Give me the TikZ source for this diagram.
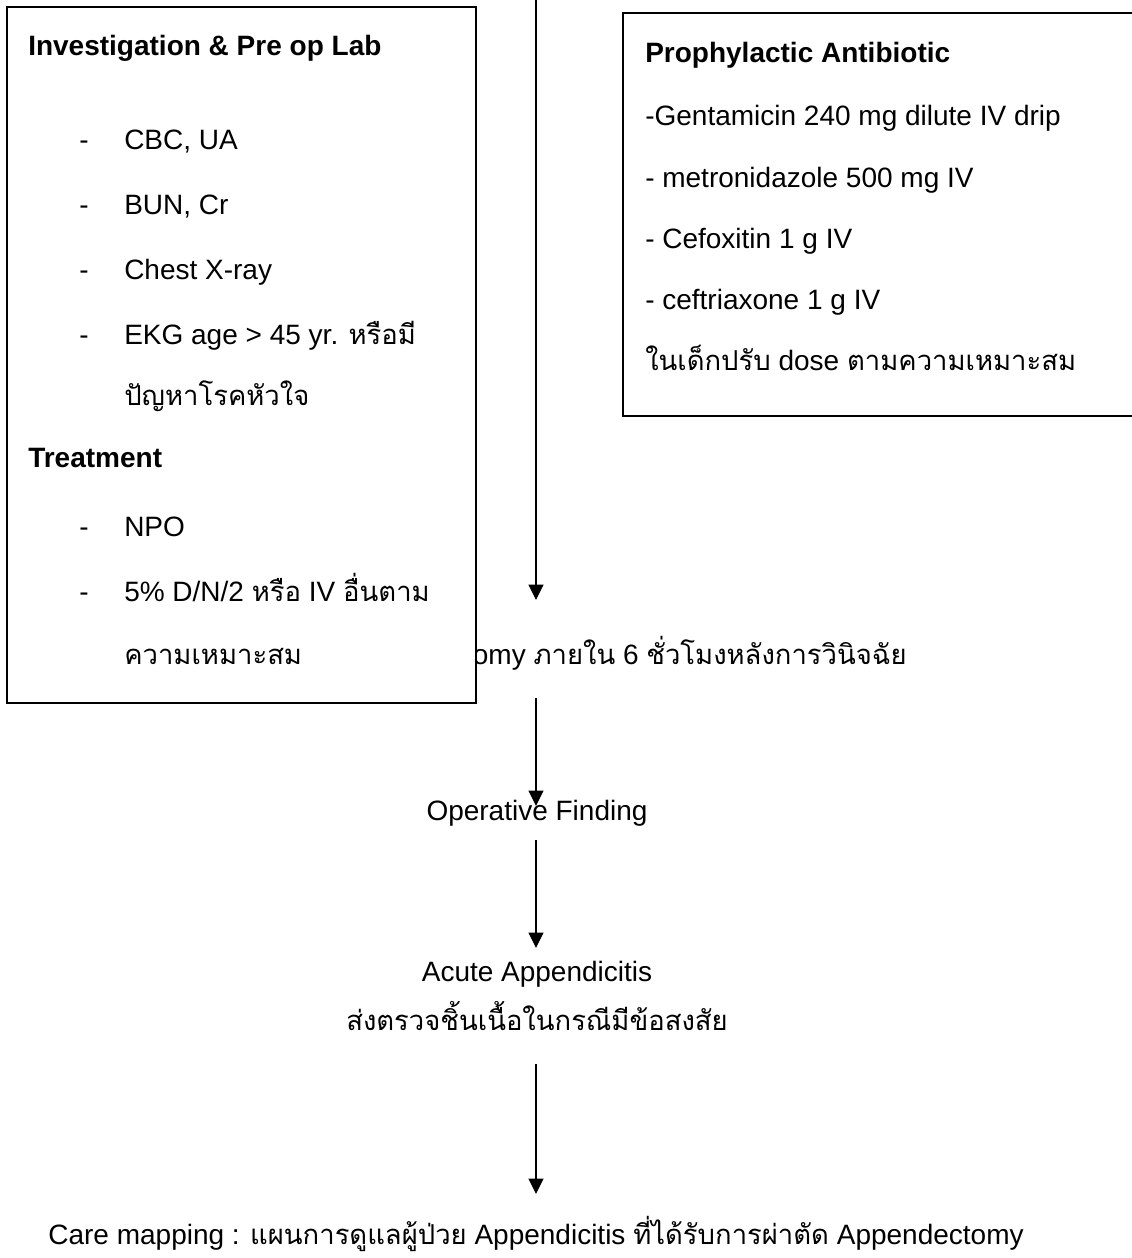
\documentclass[tikz,border=0pt]{standalone}
\usepackage{fontspec}
\setmainfont{Liberation Sans}
\newfontfamily\thaifont[Script=Thai,Scale=0.98]{Loma}
\usetikzlibrary{arrows.meta}

\tikzset{
    txt/.style={anchor=base west, inner sep=0pt, font=\fontsize{21}{25}\selectfont},
    head/.style={anchor=base west, inner sep=0pt, font=\fontsize{21}{25}\selectfont\bfseries},
    ctxt/.style={anchor=base, inner sep=0pt, font=\fontsize{21}{25}\selectfont},
    panel/.style={draw, line width=1.3pt, fill=white},
    flow/.style={line width=1.5pt, -{Triangle[length=11.5pt,width=11pt]}}
}

\begin{document}
\begin{tikzpicture}[x=0.75pt, y=-0.75pt]
        \useasboundingbox (0,0) rectangle (1132,1258);

        \coordinate (top) at (536,0);
        \node[ctxt, anchor=base east] (delay) at (907,664) {omy {\thaifont ภายใน} 6 {\thaifont ชั่วโมงหลังการวินิจฉัย}};
        \node[ctxt] (find) at (537,820) {Operative Finding};
        \node[ctxt] (acute) at (537,981) {Acute Appendicitis};
        \node[ctxt] (biopsy) at (537,1030) {\thaifont ส่งตรวจชิ้นเนื้อในกรณีมีข้อสงสัย};
        \node[ctxt] (care) at (536,1244) {Care mapping : {\thaifont แผนการดูแลผู้ป่วย} Appendicitis {\thaifont ที่ได้รับการผ่าตัด} Appendectomy};

        \draw[flow, shorten >=48pt] (top) -- (top |- delay.base);
        \draw[flow, shorten <=25.5pt, shorten >=10.5pt] (top |- delay.base) -- (top |- find.base);
        \draw[flow, shorten <=15pt, shorten >=24.75pt] (top |- find.base) -- (top |- acute.base);
        \draw[flow, shorten <=25.5pt, shorten >=37.5pt] (top |- biopsy.base) -- (top |- care.base);

        \draw[panel] (7,7) rectangle (476,703);
        \node[head] (inv) at (28,55) {Investigation \& Pre op Lab};
        \node[txt] (d1) at (79,149) {-};
        \node[txt] (cbc) at (124,149) {CBC, UA};
        \node[txt] (d2) at (79,214) {-};
        \node[txt] (bun) at (124,214) {BUN, Cr};
        \node[txt] (d3) at (79,279) {-};
        \node[txt] (cxr) at (124,279) {Chest X-ray};
        \node[txt] (d4) at (79,344) {-};
        \node[txt] (ekg) at (124,344) {EKG age > 45 yr. {\thaifont หรือมี}};
        \node[txt] (ekg2) at (124,405) {\thaifont ปัญหาโรคหัวใจ};
        \node[head] (treat) at (28,467) {Treatment};
        \node[txt] (d5) at (79,536) {-};
        \node[txt] (npo) at (124,536) {NPO};
        \node[txt] (d6) at (79,601) {-};
        \node[txt] (iv) at (124,601) {5\% D/N/2 {\thaifont หรือ} IV {\thaifont อื่นตาม}};
        \node[txt] (iv2) at (124,664) {\thaifont ความเหมาะสม};

        \draw[panel] (623,13) rectangle (1140,416);
        \node[head] (abx) at (645,62) {Prophylactic Antibiotic};
        \node[txt] (genta) at (645,125) {-Gentamicin 240 mg dilute IV drip};
        \node[txt] (metro) at (645,187) {- metronidazole 500 mg IV};
        \node[txt] (cefox) at (645,248) {- Cefoxitin 1 g IV};
        \node[txt] (cef) at (645,309) {- ceftriaxone 1 g IV};
        \node[txt] (child) at (645,370) {{\thaifont ในเด็กปรับ} dose {\thaifont ตามความเหมาะสม}};

    \end{tikzpicture}
\end{document}
